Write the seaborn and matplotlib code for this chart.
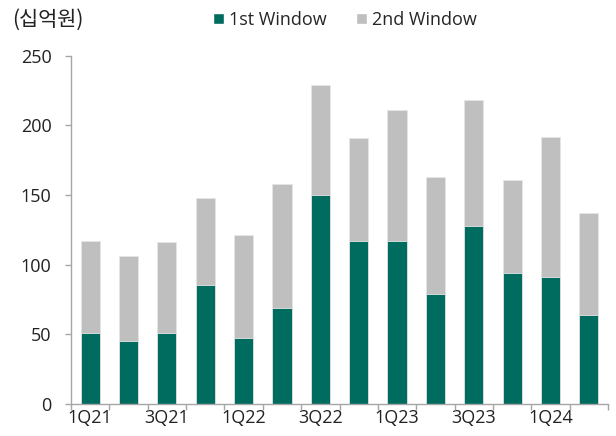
import numpy as np
import pandas as pd
import seaborn as sns
import matplotlib.pyplot as plt
from matplotlib.patches import Patch

quarters = ['1Q21', '2Q21', '3Q21', '4Q21', '1Q22', '2Q22', '3Q22',
            '4Q22', '1Q23', '2Q23', '3Q23', '4Q23', '1Q24', '2Q24']
first_window = [51, 45, 51, 85, 47, 69, 150, 117, 117, 79, 128, 94, 91, 64]
second_window = [66, 61, 65, 63, 74, 89, 79, 74, 94, 84, 90, 67, 101, 73]

green = '#006B5F'
gray = '#BFBFBF'
axis_col = '#A6A6A6'

sns.set_theme(style='white')
plt.rcParams['font.family'] = ['Open Sans', 'Noto Sans CJK KR', 'DejaVu Sans']

df = pd.DataFrame({'quarter': quarters, 'first': first_window, 'second': second_window})
df['total'] = df['first'] + df['second']

fig = plt.figure(figsize=(6.16, 4.36), dpi=100)
ax = fig.add_axes([71 / 616, 1 - 403.5 / 436, (608 - 71) / 616, (403.5 - 56) / 436])

# stacked: draw totals in gray, then first window on top in green
sns.barplot(data=df, x='quarter', y='total', color=gray, width=0.5,
            edgecolor='#E6E6E6', linewidth=0.6, saturation=1, ax=ax)
sns.barplot(data=df, x='quarter', y='first', color=green, width=0.5,
            edgecolor='#E6E6E6', linewidth=0.6, saturation=1, ax=ax)

ax.set_xlim(-0.5, len(quarters) - 0.5)
ax.set_ylim(0, 250)
ax.set_xlabel('')
ax.set_ylabel('')

ax.set_xticks(range(0, len(quarters), 2))
ax.set_xticklabels(quarters[::2], fontsize=13, color='#222222')
ax.set_xticks(np.arange(-0.5, len(quarters), 1), minor=True)
ax.tick_params(axis='x', which='major', length=0, pad=4)
ax.tick_params(axis='x', which='minor', length=4, width=1, color=axis_col, direction='out', bottom=True)

ax.set_yticks(range(0, 251, 50))
ax.tick_params(axis='y', length=4, width=1, color=axis_col, direction='out', left=True,
               labelsize=13, labelcolor='#222222', pad=10)

for side in ['top', 'right']:
    ax.spines[side].set_visible(False)
for side in ['left', 'bottom']:
    ax.spines[side].set_color(axis_col)
    ax.spines[side].set_linewidth(1)

fig.text(12 / 616, 1 - 20 / 436, '(십억원)', fontsize=15, va='center', ha='left', color='#222222',
         family=['Noto Sans CJK KR', 'DejaVu Sans'])

handles = [Patch(facecolor=green, label='1st Window'), Patch(facecolor=gray, label='2nd Window')]
fig.legend(handles=handles, loc='center', bbox_to_anchor=(345 / 616, 1 - 20 / 436), ncol=2,
           frameon=False, fontsize=13, handlelength=0.6, handleheight=0.6, handletextpad=0.3,
           columnspacing=1.6)

fig.savefig('out.png', dpi=100)
